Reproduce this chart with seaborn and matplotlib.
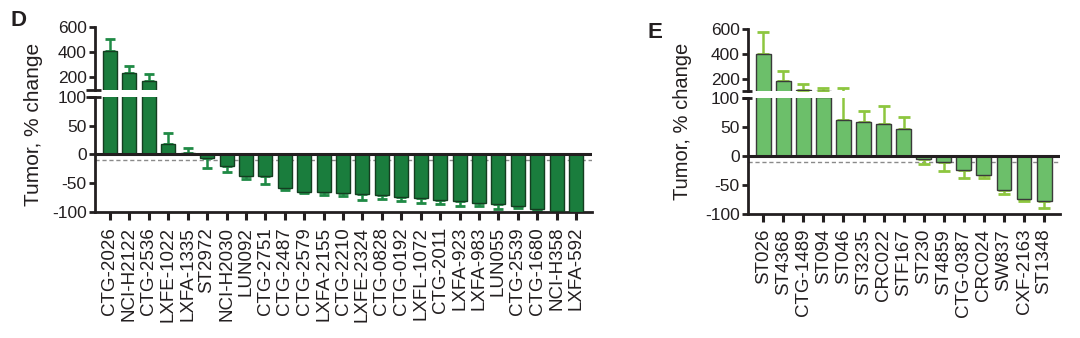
import numpy as np
import pandas as pd
import matplotlib
matplotlib.use("Agg")
import matplotlib.pyplot as plt
import seaborn as sns

# ---------------- data ----------------
d_models = ["CTG-2026", "NCI-H2122", "CTG-2536", "LXFE-1022", "LXFA-1335", "ST2972",
            "NCI-H2030", "LUN092", "CTG-2751", "CTG-2487", "CTG-2579", "LXFA-2155",
            "CTG-2210", "LXFE-2324", "CTG-0828", "CTG-0192", "LXFL-1072", "CTG-2011",
            "LXFA-923", "LXFA-983", "LUN055", "CTG-2539", "CTG-1680", "NCI-H358", "LXFA-592"]
d_change = [410, 234, 171, 19, 2, -6, -21, -37, -37, -58, -65, -65, -68, -69, -71,
            -74, -76, -80, -82, -85, -87, -90, -96, -99, -100]
d_err = [90, 53, 53, 19, 10, 17, 10, 6, 15, 5, 3, 5, 4, 11, 6, 7, 9, 6, 8, 5, 8, 4, 3, 1, 0]

e_models = ["ST026", "ST4368", "CTG-1489", "ST094", "ST046", "ST3235", "CRC022", "STF167",
            "ST230", "ST4859", "CTG-0387", "CRC024", "SW837", "CXF-2163", "ST1348"]
e_change = [400, 180, 110, 103, 62, 58, 55, 47, -6, -11, -25, -33, -60, -74, -78]
e_err = [175, 80, 50, 22, 63, 20, 32, 21, 8, 16, 14, 5, 7, 4, 13]

top_ticks = [200, 400, 600]
bottom_ticks = [-100, -50, 0, 50, 100]
threshold = -10

# ---------------- style ----------------
sns.set_style("ticks")
plt.rcParams["font.family"] = ["Liberation Sans", "DejaVu Sans"]
plt.rcParams["axes.linewidth"] = 2.0
plt.rcParams["axes.unicode_minus"] = False
TXT = "#231f20"

fig = plt.figure(figsize=(10.8, 3.38), dpi=100)


def panel(models, vals, errs, face, ecol, edge, pos_top, pos_bot, xmargins,
          bar_w, capsize):
    n = len(models)
    df = pd.DataFrame({"model": models, "change": vals})
    low = [e if v < 0 else 0 for v, e in zip(vals, errs)]
    up = [e if v >= 0 else 0 for v, e in zip(vals, errs)]
    axt = fig.add_axes(pos_top)
    axb = fig.add_axes(pos_bot)
    for ax in (axt, axb):
        sns.barplot(data=df, x="model", y="change", order=models, color=face,
                    saturation=1, edgecolor=edge, linewidth=1.0, width=bar_w,
                    errorbar=None, ax=ax, zorder=3)
        ax.errorbar(np.arange(n), vals, yerr=[low, up], fmt="none", ecolor=ecol,
                    elinewidth=1.8, capsize=capsize, capthick=2.0, zorder=2)
        ax.set_xlim(xmargins[0], n - 1 + xmargins[1])
        ax.set_xlabel("")
        ax.set_ylabel("")
        for s in ("top", "right"):
            ax.spines[s].set_visible(False)
        ax.spines["left"].set_color(TXT)
        ax.tick_params(axis="y", labelsize=12.5, colors=TXT, length=4, width=2,
                       pad=2)
    # top part
    axt.set_ylim(100, 600)
    axt.set_yticks(top_ticks)
    axt.spines["bottom"].set_visible(False)
    axt.tick_params(axis="x", bottom=False, labelbottom=False)
    axt.plot([-0.018, 0.012], [0, 0], transform=axt.transAxes, color=TXT,
             lw=2, clip_on=False, solid_capstyle="butt")
    # bottom part
    axb.set_ylim(-100, 100)
    axb.set_yticks(bottom_ticks)
    axb.plot([-0.018, 0.012], [1, 1], transform=axb.transAxes, color=TXT,
             lw=2, clip_on=False, solid_capstyle="butt")
    axb.axhline(0, color=TXT, lw=2.2, zorder=4)
    axb.axhline(threshold, color="#8a8a8a", lw=1.0, ls=(0, (3, 2)), zorder=1)
    axb.spines["bottom"].set_color(TXT)
    axb.tick_params(axis="x", labelsize=13.5, colors=TXT, length=6, width=2.2,
                    pad=5, labelrotation=90)
    for lab in axb.get_xticklabels():
        lab.set_ha("center")
        lab.set_va("top")
    return axt, axb


panel(d_models, d_change, d_err, "#1a7d3d", "#1f8a45", "#143d20",
      [0.088, 0.7337, 0.460, 0.187], [0.088, 0.3737, 0.460, 0.339],
      (-0.77, 0.81), 0.72, 3.5)
panel(e_models, e_change, e_err, "#6cbf6a", "#8dc63f", "#3a3a3a",
      [0.6926, 0.7308, 0.289, 0.1825], [0.6926, 0.3683, 0.289, 0.341],
      (-0.76, 0.80), 0.74, 4.0)

fig.text(34 / 1080, 0.632, "Tumor, % change", rotation=90, ha="center",
         va="center", fontsize=15, color=TXT)
fig.text(683 / 1080, 0.6405, "Tumor, % change", rotation=90, ha="center",
         va="center", fontsize=14.5, color=TXT)
fig.text(18 / 1080, 1 - 21 / 338, "D", fontsize=16, fontweight="bold",
         ha="center", va="center", color=TXT)
fig.text(655 / 1080, 1 - 32 / 338, "E", fontsize=16, fontweight="bold",
         ha="center", va="center", color=TXT)

fig.savefig("out.png", dpi=100)
